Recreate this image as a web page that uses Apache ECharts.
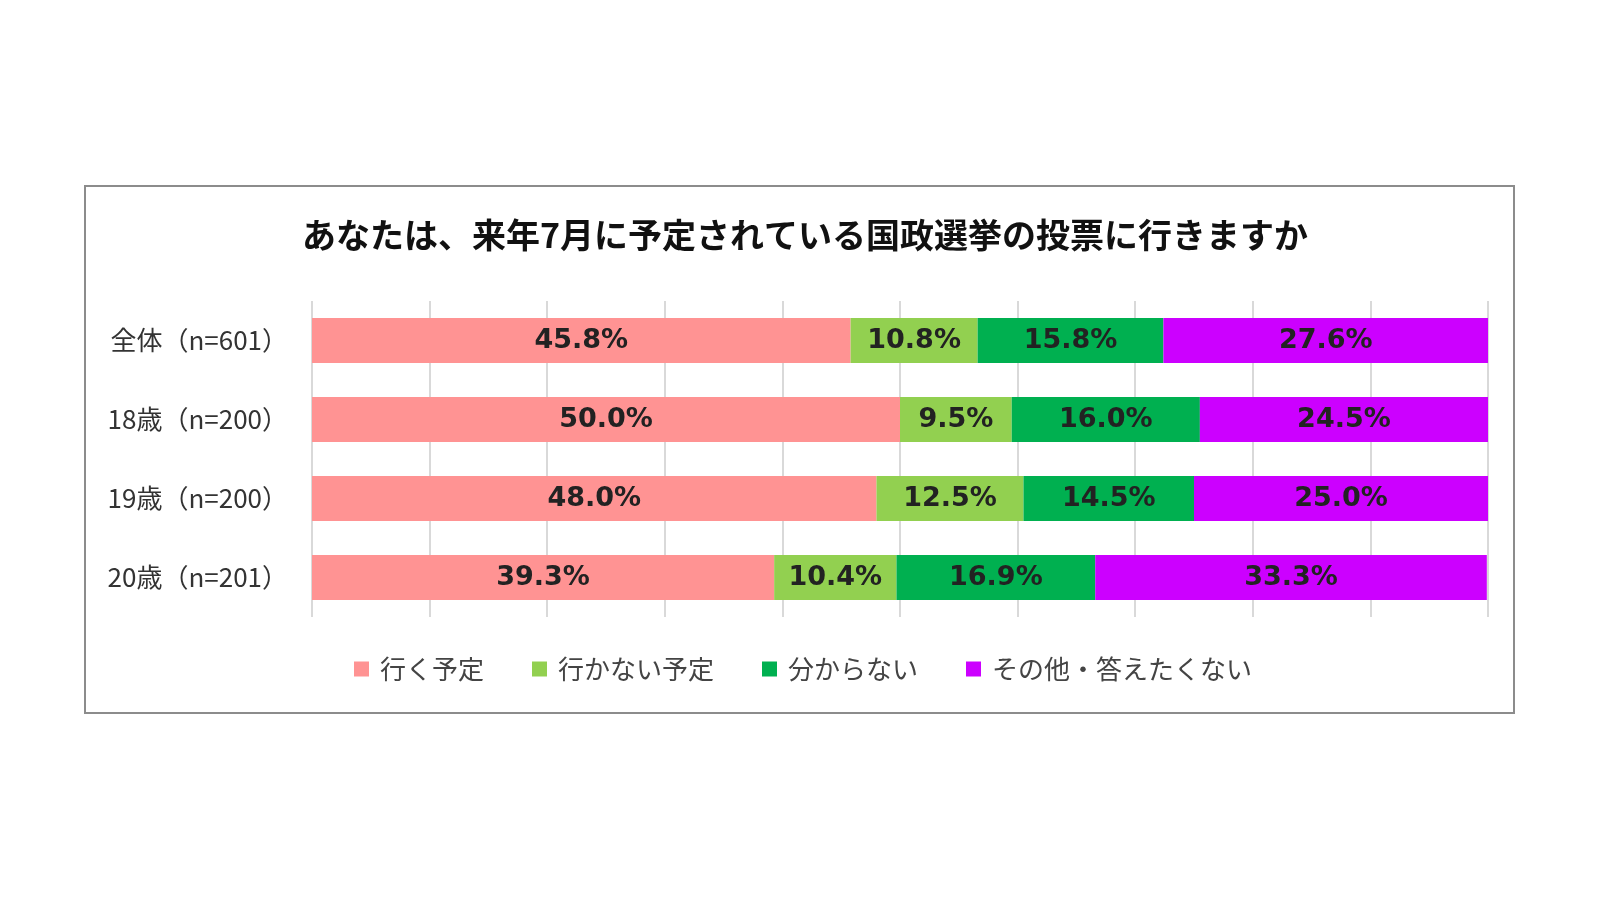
<!DOCTYPE html>
<html>
<head>
<meta charset="utf-8">
<script src="https://cdn.jsdelivr.net/npm/echarts@6/dist/echarts.min.js"></script>
<style>
    html, body { margin: 0; padding: 0; background: #fff; }
    #main { width: 1600px; height: 900px; }
</style>
</head>
<body>
<div id="main"></div>
<script>
// 回答者区分
var categories = ['全体（n=601）', '18歳（n=200）', '19歳（n=200）', '20歳（n=201）'];
// 回答の種類
var seriesNames = ['行く予定', '行かない予定', '分からない', 'その他・答えたくない'];
var seriesColors = ['#FF9393', '#92D050', '#00B050', '#CC00FF'];
// 各回答の割合（%）
var goValues = [45.8, 50.0, 48.0, 39.3];
var notGoValues = [10.8, 9.5, 12.5, 10.4];
var unknownValues = [15.8, 16.0, 14.5, 16.9];
var otherValues = [27.6, 24.5, 25.0, 33.3];

var chart = echarts.init(document.getElementById('main'));

function makeSeries(name, values, color) {
    return {
        name: name,
        type: 'bar',
        stack: 'total',
        barWidth: 45,
        data: values,
        itemStyle: { color: color },
        label: {
            show: true,
            position: 'inside',
            formatter: function (p) { return p.value.toFixed(1) + '%'; },
            fontFamily: 'DejaVu Sans',
            fontWeight: 'bold',
            fontSize: 27,
            color: '#222'
        }
    };
}

var option = {
    backgroundColor: '#fff',
    animation: false,
    color: seriesColors,
    title: {
        text: 'あなたは、来年7月に予定されている国政選挙の投票に行きますか',
        left: 800,
        textAlign: 'center',
        top: 213,
        textStyle: {
            fontFamily: 'Noto Sans CJK JP',
            fontWeight: 'bold',
            fontSize: 34,
            color: '#111'
        }
    },
    legend: {
        data: seriesNames,
        left: 349,
        top: 651,
        itemWidth: 15,
        itemHeight: 15,
        itemGap: 48,
        icon: 'rect',
        textStyle: {
            fontFamily: 'Noto Sans CJK JP',
            fontSize: 26,
            color: '#444',
            padding: [0, 0, 0, 6]
        }
    },
    grid: {
        left: 312,
        right: 1600 - 1488,
        top: 301,
        height: 316,
        containLabel: false
    },
    xAxis: {
        type: 'value',
        min: 0,
        max: 100,
        interval: 10,
        axisLabel: { show: false },
        axisLine: { show: false },
        axisTick: { show: false },
        splitLine: { lineStyle: { color: '#d9d9d9', width: 2 } }
    },
    yAxis: {
        type: 'category',
        inverse: true,
        data: categories,
        axisLine: { show: false },
        axisTick: { show: false },
        axisLabel: {
            margin: 24,
            fontFamily: 'Noto Sans CJK JP',
            fontSize: 26,
            color: '#333'
        }
    },
    graphic: [{
        type: 'rect',
        shape: { x: 85, y: 186, width: 1429, height: 527 },
        style: { fill: 'none', stroke: '#8c8c8c', lineWidth: 2 },
        z: -1
    }],
    series: [
        makeSeries(seriesNames[0], goValues, seriesColors[0]),
        makeSeries(seriesNames[1], notGoValues, seriesColors[1]),
        makeSeries(seriesNames[2], unknownValues, seriesColors[2]),
        makeSeries(seriesNames[3], otherValues, seriesColors[3])
    ]
};

chart.setOption(option);
</script>
</body>
</html>
